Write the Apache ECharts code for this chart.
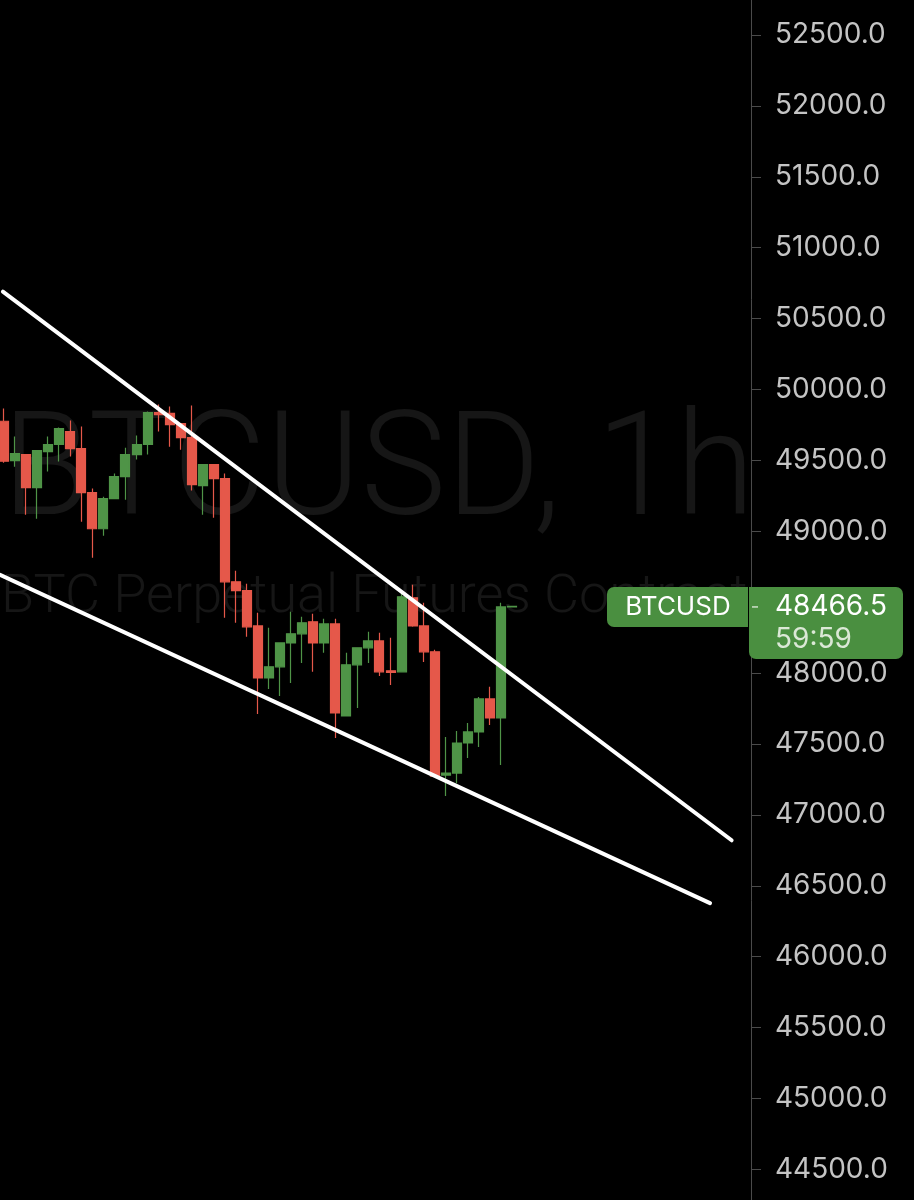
<!DOCTYPE html>
<html>
<head>
<meta charset="utf-8">
<script src="https://cdn.jsdelivr.net/npm/echarts@6.0.0/dist/echarts.min.js"></script>
<style>
html,body{margin:0;padding:0;background:#000;}
#c{width:914px;height:1200px;}
</style>
</head>
<body>
<div id="c"></div>
<script>
// ---- data (1h candles, BTCUSD) ----
const opens  = [49776,49499,49541,49308,49562,49612,49703,49583,49273,49018,49230,49386,49541,49612,49838,49831,49760,49661,49322,49470,49371,48644,48581,48333,47966,48044,48213,48277,48362,48213,48347,47698,48058,48178,48227,48016,48009,48531,48333,48150,47281,47295,47507,47585,47818,47684,48466.5];
const closes = [49494,49548,49308,49569,49612,49725,49583,49273,49018,49230,49386,49541,49612,49838,49823,49753,49661,49329,49470,49371,48644,48581,48326,47966,48044,48213,48277,48355,48213,48347,47719,48058,48178,48227,48009,48005,48538,48333,48150,47274,47295,47507,47585,47818,47684,48466.5,48470];
const lows   = [49484,49456,49117,49089,49421,49492,49527,49068,48814,48969,49230,49223,49506,49541,49703,49597,49576,49287,49117,49096,48390,48355,48256,47712,47888,47839,47931,48072,48009,48143,47542,47698,47754,48072,47980,47916,48009,48326,48079,47274,47133,47224,47401,47479,47634,47352,48462];
const highs  = [49866,49668,49541,49569,49668,49732,49781,49739,49301,49244,49407,49590,49675,49845,49894,49880,49760,49887,49470,49470,49407,48722,48630,48425,48319,48213,48432,48397,48418,48383,48383,48143,48178,48291,48284,48249,48573,48623,48496,48164,47549,47592,47648,47832,47903,48496,48474];

// trendlines: [candle index, price]
const upperLine = [[-0.1, 50690], [65.89, 46821]];
const lowerLine = [[-0.36, 48693], [63.93, 46378]];

const yTicks = [44500,45000,45500,46000,46500,47000,47500,48000,48500,49000,49500,50000,50500,51000,51500,52000,52500];
const symbolName = 'BTCUSD';
const lastPrice = 48466.5;
const countdown = '59:59';
const titleText = 'BTCUSD, 1h';
const subtitleText = 'BTC Perpetual Futures Contract';

const UP = '#4f9447';
const DOWN = '#e5584a';
const LABEL_GREEN = '#4a8f40';

const candleData = opens.map((o, i) => [i, o, closes[i], lows[i], highs[i]]);

const chart = echarts.init(document.getElementById('c'), null, {renderer: 'canvas'});
const GRID_RIGHT = 163;
chart.setOption({
  backgroundColor: '#000',
  animation: false,
  grid: {left: 0, right: GRID_RIGHT, top: 0, bottom: 0},
  xAxis: {
    type: 'value', min: -0.362, max: 67.645, show: false
  },
  yAxis: {
    type: 'value', position: 'right', min: 44284, max: 52747,
    splitLine: {show: false},
    axisLine: {show: true, onZero: false, lineStyle: {color: '#4a4a4a', width: 1}},
    axisTick: {show: true, length: 10, customValues: yTicks, lineStyle: {color: '#4a4a4a'}},
    axisLabel: {
      customValues: yTicks, margin: 24, color: '#c4c4c4', fontSize: 28,
      fontFamily: 'Inter', formatter: v => v.toFixed(1)
    }
  },
  series: [
    {
      type: 'candlestick',
      data: candleData,
      encode: {x: 0, y: [1, 2, 3, 4]},
      barWidth: 9.5,
      itemStyle: {color: UP, color0: DOWN, borderColor: UP, borderColor0: DOWN, borderWidth: 1.2},
      z: 3
    },
    {
      type: 'line', data: upperLine, symbol: 'none', z: 4,
      lineStyle: {color: '#fff', width: 4, cap: 'round'}
    },
    {
      type: 'line', data: lowerLine, symbol: 'none', z: 4,
      lineStyle: {color: '#fff', width: 4, cap: 'round'}
    }
  ]
});

const yP = chart.convertToPixel({yAxisIndex: 0}, lastPrice);
const axisX = 914 - GRID_RIGHT;
chart.setOption({
  graphic: [
    {type: 'text', z: -10, silent: true, style: {x: 2, y: 478, text: titleText, font: '300 144px Roboto', fill: '#161616', verticalAlign: 'middle'}},
    {type: 'text', z: -10, silent: true, style: {x: 1, y: 598, text: subtitleText, font: '300 54px Roboto', fill: '#161616', verticalAlign: 'middle'}},
    {type: 'rect', z: 50, shape: {x: axisX - 144, y: yP - 20, width: 141, height: 40, r: [7, 0, 0, 7]}, style: {fill: LABEL_GREEN}},
    {type: 'text', z: 51, style: {x: axisX - 73, y: yP, text: symbolName, font: '26px Inter', fill: '#fff', align: 'center', verticalAlign: 'middle'}},
    {type: 'rect', z: 50, shape: {x: axisX - 2, y: yP - 20, width: 154, height: 72, r: [0, 7, 7, 7]}, style: {fill: LABEL_GREEN}},
    {type: 'line', z: 51, shape: {x1: axisX + 1, y1: yP, x2: axisX + 7, y2: yP}, style: {stroke: '#d0e0cc', lineWidth: 1.5}},
    {type: 'text', z: 51, style: {x: axisX + 24, y: yP, text: lastPrice.toFixed(1), font: '28px Inter', fill: '#fff', verticalAlign: 'middle'}},
    {type: 'text', z: 51, style: {x: axisX + 24, y: yP + 33, text: countdown, font: '28px Inter', fill: '#dbe8d6', verticalAlign: 'middle'}}
  ]
});
</script>
</body>
</html>
